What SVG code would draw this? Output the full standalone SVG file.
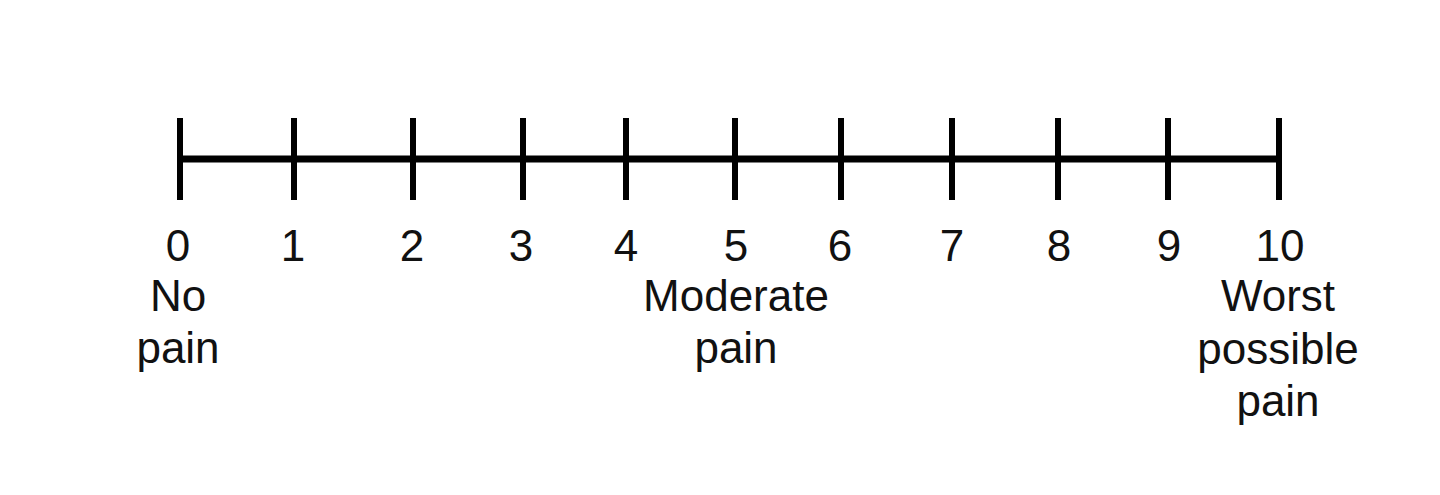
<svg xmlns="http://www.w3.org/2000/svg" width="1440" height="495" viewBox="0 0 1440 495">
<style>
.axis{stroke:#000;stroke-width:7;fill:none}
.tick{stroke:#000;stroke-width:6}
text{font-family:"Liberation Sans",Arial,sans-serif;font-size:44px;fill:#111;text-anchor:middle}
</style>
<rect width="1440" height="495" fill="#fff"/>
<g id="connectors">
<line class="axis" x1="180" y1="159" x2="1279" y2="159"/>
</g>
<g id="ticks">
<line class="tick" x1="180" y1="118" x2="180" y2="200"/>
<line class="tick" x1="294" y1="118" x2="294" y2="200"/>
<line class="tick" x1="413" y1="118" x2="413" y2="200"/>
<line class="tick" x1="523" y1="118" x2="523" y2="200"/>
<line class="tick" x1="626" y1="118" x2="626" y2="200"/>
<line class="tick" x1="735" y1="118" x2="735" y2="200"/>
<line class="tick" x1="841" y1="118" x2="841" y2="200"/>
<line class="tick" x1="952" y1="118" x2="952" y2="200"/>
<line class="tick" x1="1058" y1="118" x2="1058" y2="200"/>
<line class="tick" x1="1168" y1="118" x2="1168" y2="200"/>
<line class="tick" x1="1279" y1="118" x2="1279" y2="200"/>
</g>
<g id="numbers">
<text x="178" y="261">0</text>
<text x="293" y="261">1</text>
<text x="412" y="261">2</text>
<text x="521" y="261">3</text>
<text x="626" y="261">4</text>
<text x="736" y="261">5</text>
<text x="840" y="261">6</text>
<text x="952" y="261">7</text>
<text x="1059" y="261">8</text>
<text x="1169" y="261">9</text>
<text x="1280" y="261">10</text>
</g>
<g id="label-no-pain">
<text x="178" y="311">No</text>
<text x="178" y="363">pain</text>
</g>
<g id="label-moderate">
<text x="736" y="311">Moderate</text>
<text x="736" y="363">pain</text>
</g>
<g id="label-worst">
<text x="1278" y="311">Worst</text>
<text x="1278" y="364">possible</text>
<text x="1278" y="416">pain</text>
</g>
</svg>
